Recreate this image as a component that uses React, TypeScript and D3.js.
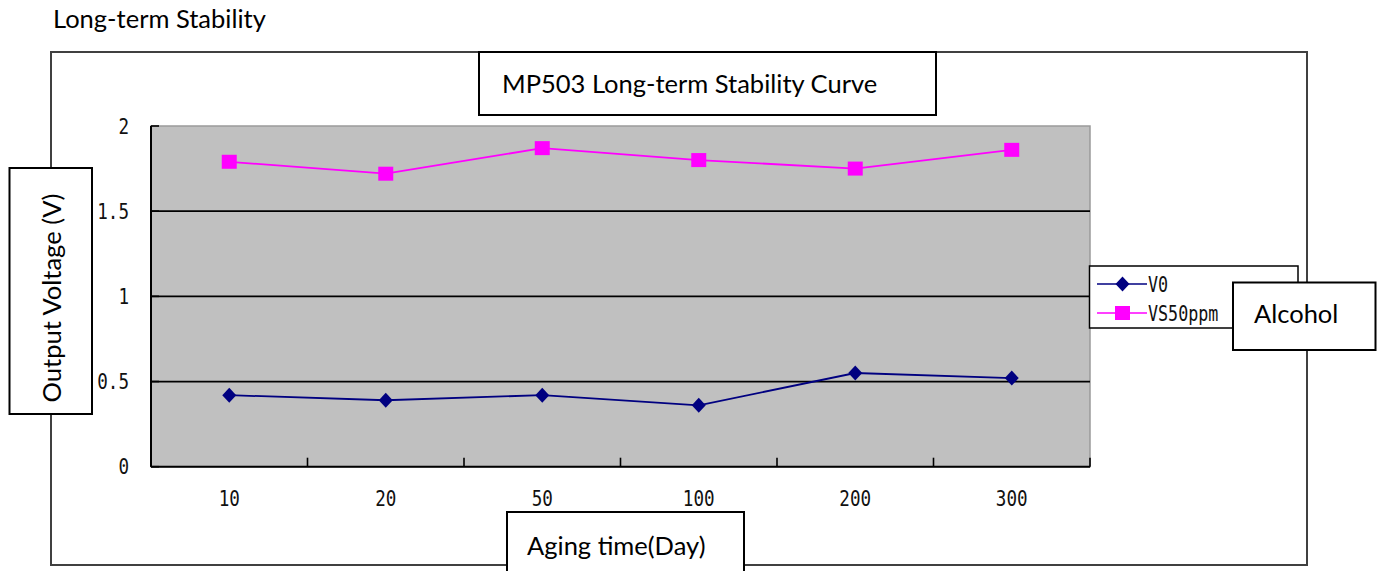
import React from "react";
import * as d3 from "d3";

const categories = ["10", "20", "50", "100", "200", "300"];
const v0Values = [0.42, 0.39, 0.42, 0.36, 0.55, 0.52];
const vs50Values = [1.79, 1.72, 1.87, 1.8, 1.75, 1.86];
const yTicks = [0, 0.5, 1, 1.5, 2];
const seriesNames = ["V0", "VS50ppm"];

const W = 1381;
const H = 571;
const plot = { left: 151, right: 1090, top: 126, bottom: 466.7 };
const sans = "Lato, 'Open Sans', sans-serif";
const mono = "'DejaVu Sans Mono', 'Liberation Mono', monospace";
const calSize = 25.5;

function MonoText({ x, y, anchor, children, size = 20 }: any) {
  return (
    <g transform={`translate(${x},${y}) scale(0.88,1.1)`}>
      <text x={0} y={0} textAnchor={anchor} fontFamily={mono} fontSize={size} fill="#111">
        {children}
      </text>
    </g>
  );
}

function Diamond({ cx, cy }: any) {
  const r = 7.5;
  return (
    <path
      d={`M${cx},${cy - r}L${cx + r - 0.5},${cy}L${cx},${cy + r}L${cx - r + 0.5},${cy}Z`}
      fill="#000080"
    />
  );
}

function Square({ cx, cy }: any) {
  return <rect x={cx - 7.5} y={cy - 7} width={15} height={14} fill="#ff00ff" />;
}

export default function App() {
  const x = d3.scaleBand<string>().domain(categories).range([plot.left, plot.right]);
  const y = d3.scaleLinear().domain([0, 2]).range([plot.bottom, plot.top]);
  const cx = (c: string) => (x(c) as number) + x.bandwidth() / 2;

  const line = d3
    .line<number>()
    .x((_, i) => cx(categories[i]))
    .y((d) => y(d));

  const boundaries = categories.map((c) => x(c) as number).concat([plot.right]);

  return (
    <svg
      width={W}
      height={H}
      style={{ position: "absolute", left: 0, top: 0, background: "#fff" }}
    >
      <rect x={0} y={0} width={W} height={H} fill="#fff" />
      <text x={53} y={28} fontFamily={sans} fontSize={calSize} fill="#000">
        Long-term Stability
      </text>

      {/* outer chart frame */}
      <rect x={51} y={52} width={1256} height={513} fill="#fff" stroke="#404040" strokeWidth={2} />

      {/* plot area */}
      <rect
        x={plot.left}
        y={plot.top}
        width={plot.right - plot.left}
        height={plot.bottom - plot.top}
        fill="#c0c0c0"
        stroke="#9a9a9a"
        strokeWidth={1.5}
      />

      {/* gridlines */}
      {yTicks
        .filter((t) => t > 0 && t < 2)
        .map((t) => (
          <line
            key={"g" + t}
            x1={plot.left}
            x2={plot.right}
            y1={y(t)}
            y2={y(t)}
            stroke="#000"
            strokeWidth={1.7}
          />
        ))}

      {/* axes */}
      <line x1={plot.left} x2={plot.left} y1={plot.top} y2={plot.bottom} stroke="#000" strokeWidth={2} />
      <line x1={plot.left} x2={plot.right} y1={plot.bottom} y2={plot.bottom} stroke="#000" strokeWidth={2} />
      {yTicks.map((t) => (
        <line key={"yt" + t} x1={plot.left} x2={plot.left + 8} y1={y(t)} y2={y(t)} stroke="#000" strokeWidth={1.6} />
      ))}
      {boundaries.map((b, i) => (
        <line key={"xt" + i} x1={b} x2={b} y1={plot.bottom} y2={plot.bottom - 9} stroke="#000" strokeWidth={1.6} />
      ))}

      {/* y tick labels */}
      {yTicks.map((t) => (
        <MonoText key={"yl" + t} x={129} y={y(t) + 7.5} anchor="end">
          {String(t)}
        </MonoText>
      ))}

      {/* x tick labels */}
      {categories.map((c) => (
        <MonoText key={"xl" + c} x={cx(c)} y={506} anchor="middle">
          {c}
        </MonoText>
      ))}

      {/* series */}
      <path d={line(v0Values) || ""} fill="none" stroke="#000080" strokeWidth={1.8} />
      <path d={line(vs50Values) || ""} fill="none" stroke="#ff00ff" strokeWidth={1.8} />
      {v0Values.map((v, i) => (
        <Diamond key={"d" + i} cx={cx(categories[i])} cy={y(v)} />
      ))}
      {vs50Values.map((v, i) => (
        <Square key={"s" + i} cx={cx(categories[i])} cy={y(v)} />
      ))}

      {/* legend */}
      <rect x={1089.5} y={266} width={208.5} height={62} fill="#fff" stroke="#000" strokeWidth={1.5} />
      <line x1={1097} x2={1147} y1={284} y2={284} stroke="#000080" strokeWidth={1.6} />
      <Diamond cx={1122.5} cy={284} />
      <MonoText x={1148} y={291.5} anchor="start" size={19}>
        {seriesNames[0]}
      </MonoText>
      <line x1={1097} x2={1147} y1={313} y2={313} stroke="#ff00ff" strokeWidth={1.6} />
      <Square cx={1122.5} cy={313} />
      <MonoText x={1148} y={320.5} anchor="start" size={19}>
        {seriesNames[1]}
      </MonoText>

      {/* title box */}
      <rect x={479} y={52} width={457} height={63} fill="#fff" stroke="#000" strokeWidth={2} />
      <text x={502} y={93} fontFamily={sans} fontSize={calSize} fill="#000">
        MP503 Long-term Stability Curve
      </text>

      {/* y-axis title box */}
      <rect x={9.5} y={168} width={82.5} height={246} fill="#fff" stroke="#000" strokeWidth={2} />
      <text
        transform="translate(61,298) rotate(-90)"
        textAnchor="middle"
        fontFamily={sans}
        fontSize={calSize}
        fill="#000"
      >
        Output Voltage (V)
      </text>

      {/* x-axis title box */}
      <rect x={507} y={512} width={237} height={70} fill="#fff" stroke="#000" strokeWidth={2} />
      <text x={527} y={555} fontFamily={sans} fontSize={calSize} fill="#000">
        Aging time(Day)
      </text>

      {/* Alcohol box */}
      <rect x={1233} y={282.5} width={142.5} height={67.5} fill="#fff" stroke="#000" strokeWidth={2} />
      <text x={1254} y={323} fontFamily={sans} fontSize={calSize} fill="#000">
        Alcohol
      </text>
    </svg>
  );
}
